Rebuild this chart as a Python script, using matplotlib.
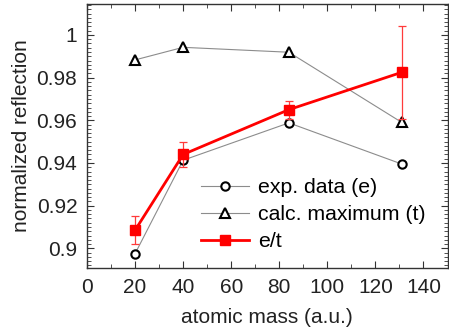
import numpy as np
import matplotlib
matplotlib.use("Agg")
import matplotlib.pyplot as plt
from matplotlib.ticker import MultipleLocator

plt.rcParams['font.family'] = ['Liberation Sans', 'DejaVu Sans']
plt.rcParams['font.size'] = 15

# data
mass = [20, 40, 84, 131]
exp_data = [0.8975, 0.9413, 0.9588, 0.9395]
calc_max = [0.9883, 0.9942, 0.9919, 0.9590]
ratio = [0.9085, 0.9440, 0.9650, 0.9825]
ratio_err = [0.0066, 0.0058, 0.0042, 0.0218]

fig = plt.figure(figsize=(4.49, 3.35), dpi=100)
ax = fig.add_axes([87 / 449, 67 / 335, 360.5 / 449, 264 / 335])

ax.plot(mass, exp_data, color='#8c8c8c', lw=0.8, marker='o', ms=6,
        mfc='white', mec='black', mew=1.5, label='exp. data (e)')
ax.plot(mass, calc_max, color='#8c8c8c', lw=0.8, marker='^', ms=7.5,
        mfc='white', mec='black', mew=1.5, label='calc. maximum (t)')
ax.errorbar(mass, ratio, yerr=ratio_err, fmt='none', ecolor='#ff3b3b',
            elinewidth=0.9, capsize=3, capthick=0.9)
ax.plot(mass, ratio, color='red', lw=2, marker='s', ms=7, mfc='red',
        mec='red', label='e/t')

ax.set_xlim(0, 150)
ax.set_ylim(0.8908, 1.0145)
ax.xaxis.set_minor_locator(MultipleLocator(10))
ax.yaxis.set_minor_locator(MultipleLocator(0.002))
ax.set_xticks([0, 20, 40, 60, 80, 100, 120, 140])
ax.set_yticks([0.9, 0.92, 0.94, 0.96, 0.98, 1.0])
ax.set_yticklabels(['0.9', '0.92', '0.94', '0.96', '0.98', '1'])

ax.tick_params(which='both', direction='in', top=True, right=True,
               colors='#333333', labelcolor='#222222')
ax.tick_params(which='major', length=5, width=0.8, pad=7)
ax.tick_params(which='minor', length=3, width=0.6)
for s in ax.spines.values():
    s.set_color('#333333')
    s.set_linewidth(1)

ax.set_xlabel('atomic mass (a.u.)', color='#222222', labelpad=8)
ax.set_ylabel('normalized reflection', color='#222222', labelpad=4)

ax.legend(loc='upper left', bbox_to_anchor=(0.315, 0.34), frameon=False,
          handlelength=2.3, handletextpad=0.4, labelspacing=0.38,
          borderaxespad=0, borderpad=0, fontsize=15.3)

fig.savefig('out.png', dpi=100)
